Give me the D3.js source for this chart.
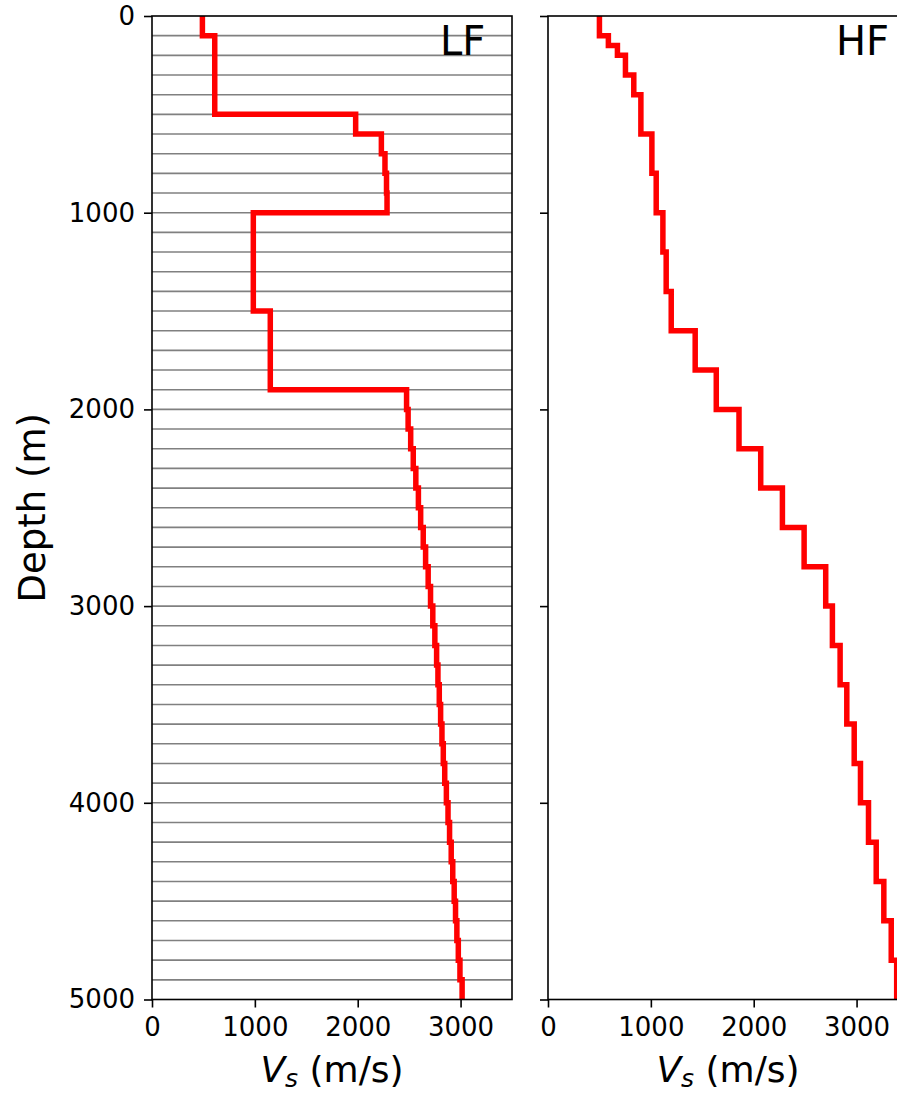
<!DOCTYPE html>
<html>
<head>
<meta charset="utf-8">
<script src="https://cdn.jsdelivr.net/npm/d3@7"></script>
<style>
  html, body { margin: 0; padding: 0; background: #fff; overflow: hidden; }
  svg { display: block; font-family: "DejaVu Sans", sans-serif; }
</style>
</head>
<body>
<svg id="chart" width="897" height="1093"></svg>
<script>
// Shear-wave velocity profiles (Vs vs depth) for two models.

// LF model: 100 m layers, layer tops (m) and Vs (m/s)
const lfTops = [
  0, 100, 200, 300, 400, 500, 600, 700, 800, 900,
  1000, 1100, 1200, 1300, 1400, 1500, 1600, 1700, 1800, 1900,
  2000, 2100, 2200, 2300, 2400, 2500, 2600, 2700, 2800, 2900,
  3000, 3100, 3200, 3300, 3400, 3500, 3600, 3700, 3800, 3900,
  4000, 4100, 4200, 4300, 4400, 4500, 4600, 4700, 4800, 4900
];
const lfVs = [
  490, 610, 610, 610, 610, 1980, 2230, 2265, 2280, 2285,
  985, 985, 985, 985, 985, 1150, 1150, 1150, 1150, 2475,
  2490, 2515, 2540, 2565, 2590, 2612, 2637, 2660, 2685, 2708,
  2730, 2750, 2767, 2780, 2793, 2806, 2819, 2832, 2846, 2862,
  2878, 2893, 2909, 2924, 2938, 2951, 2964, 2978, 2994, 3015
];

// HF model: layer tops (m) and Vs (m/s)
const hfTops = [
  0, 100, 150, 200, 300, 400, 600, 800, 1000, 1200,
  1400, 1600, 1800, 2000, 2200, 2400, 2600, 2800, 3000, 3200,
  3400, 3600, 3800, 4000, 4200, 4400, 4600, 4800
];
const hfVs = [
  500, 587, 675, 753, 834, 903, 1010, 1052, 1117, 1149,
  1198, 1431, 1636, 1857, 2068, 2279, 2490, 2700, 2765, 2840,
  2905, 2977, 3038, 3116, 3191, 3265, 3337, 3390
];

const maxDepth = 5000;
const depthTicks = [0, 1000, 2000, 3000, 4000, 5000];
const vsTicks = [0, 1000, 2000, 3000];
const vsDomain = [0, 3500];

const svg = d3.select("#chart");
const plotTop = 16, plotBottom = 999.5;
const panelW = 360;
const panels = [
  { name: "LF", left: 152, tops: lfTops, vs: lfVs, layerLines: true, yLabels: true },
  { name: "HF", left: 548, tops: hfTops, vs: hfVs, layerLines: false, yLabels: false }
];

const y = d3.scaleLinear().domain([0, maxDepth]).range([plotTop, plotBottom]);

panels.forEach(p => {
  const x = d3.scaleLinear().domain(vsDomain).range([p.left, p.left + panelW]);
  const g = svg.append("g");

  // layer boundary lines
  if (p.layerLines) {
    const bounds = p.tops.slice(1);
    g.selectAll("line.layer").data(bounds).enter().append("line")
      .attr("class", "layer")
      .attr("x1", x(vsDomain[0])).attr("x2", x(vsDomain[1]))
      .attr("y1", d => y(d)).attr("y2", d => y(d))
      .attr("stroke", "#808080").attr("stroke-width", 1.6);
  }

  // stepped Vs profile
  const pts = [];
  p.tops.forEach((t, i) => {
    const b = i + 1 < p.tops.length ? p.tops[i + 1] : maxDepth;
    pts.push([p.vs[i], t], [p.vs[i], b]);
  });
  const line = d3.line().x(d => x(d[0])).y(d => y(d[1]));
  g.append("path").datum(pts)
    .attr("d", line)
    .attr("fill", "none")
    .attr("stroke", "#ff0000")
    .attr("stroke-width", 5.5)
    .attr("stroke-linejoin", "miter");

  // frame
  g.append("rect")
    .attr("x", x(vsDomain[0])).attr("y", plotTop)
    .attr("width", x(vsDomain[1]) - x(vsDomain[0]))
    .attr("height", plotBottom - plotTop)
    .attr("fill", "none").attr("stroke", "#000").attr("stroke-width", 1.6);

  // x axis
  const xAxis = d3.axisBottom(x).tickValues(vsTicks).tickSize(8).tickPadding(10).tickFormat(d3.format("d"));
  const xg = g.append("g").attr("transform", `translate(0,${plotBottom})`).call(xAxis);
  xg.select(".domain").remove();
  xg.selectAll(".tick line").attr("stroke", "#000").attr("stroke-width", 1.6);
  xg.selectAll(".tick text").attr("font-size", 26).attr("font-family", "DejaVu Sans").attr("fill", "#000");

  // y axis
  const yAxis = d3.axisLeft(y).tickValues(depthTicks).tickSize(8).tickPadding(9)
    .tickFormat(p.yLabels ? d3.format("d") : () => "");
  const yg = g.append("g").attr("transform", `translate(${p.left},0)`).call(yAxis);
  yg.select(".domain").remove();
  yg.selectAll(".tick line").attr("stroke", "#000").attr("stroke-width", 1.6);
  yg.selectAll(".tick text").attr("font-size", 26).attr("font-family", "DejaVu Sans").attr("fill", "#000");

  // panel title
  g.append("text")
    .attr("x", x(2800)).attr("y", y(200))
    .attr("font-size", 40).attr("fill", "#000")
    .text(p.name);

  // x axis label: V_s (m/s)
  const lab = g.append("text")
    .attr("x", p.left + panelW / 2).attr("y", 1082)
    .attr("text-anchor", "middle").attr("font-size", 36).attr("fill", "#000");
  lab.append("tspan").attr("font-style", "italic").text("V");
  lab.append("tspan").attr("font-style", "italic").attr("font-size", 25).attr("dy", 5).text("s");
  lab.append("tspan").attr("dy", -5).text(" (m/s)");
});

// y axis label
svg.append("text")
  .attr("transform", `translate(45,${(plotTop + plotBottom) / 2}) rotate(-90)`)
  .attr("text-anchor", "middle").attr("font-size", 37).attr("fill", "#000")
  .text("Depth (m)");
</script>
</body>
</html>
